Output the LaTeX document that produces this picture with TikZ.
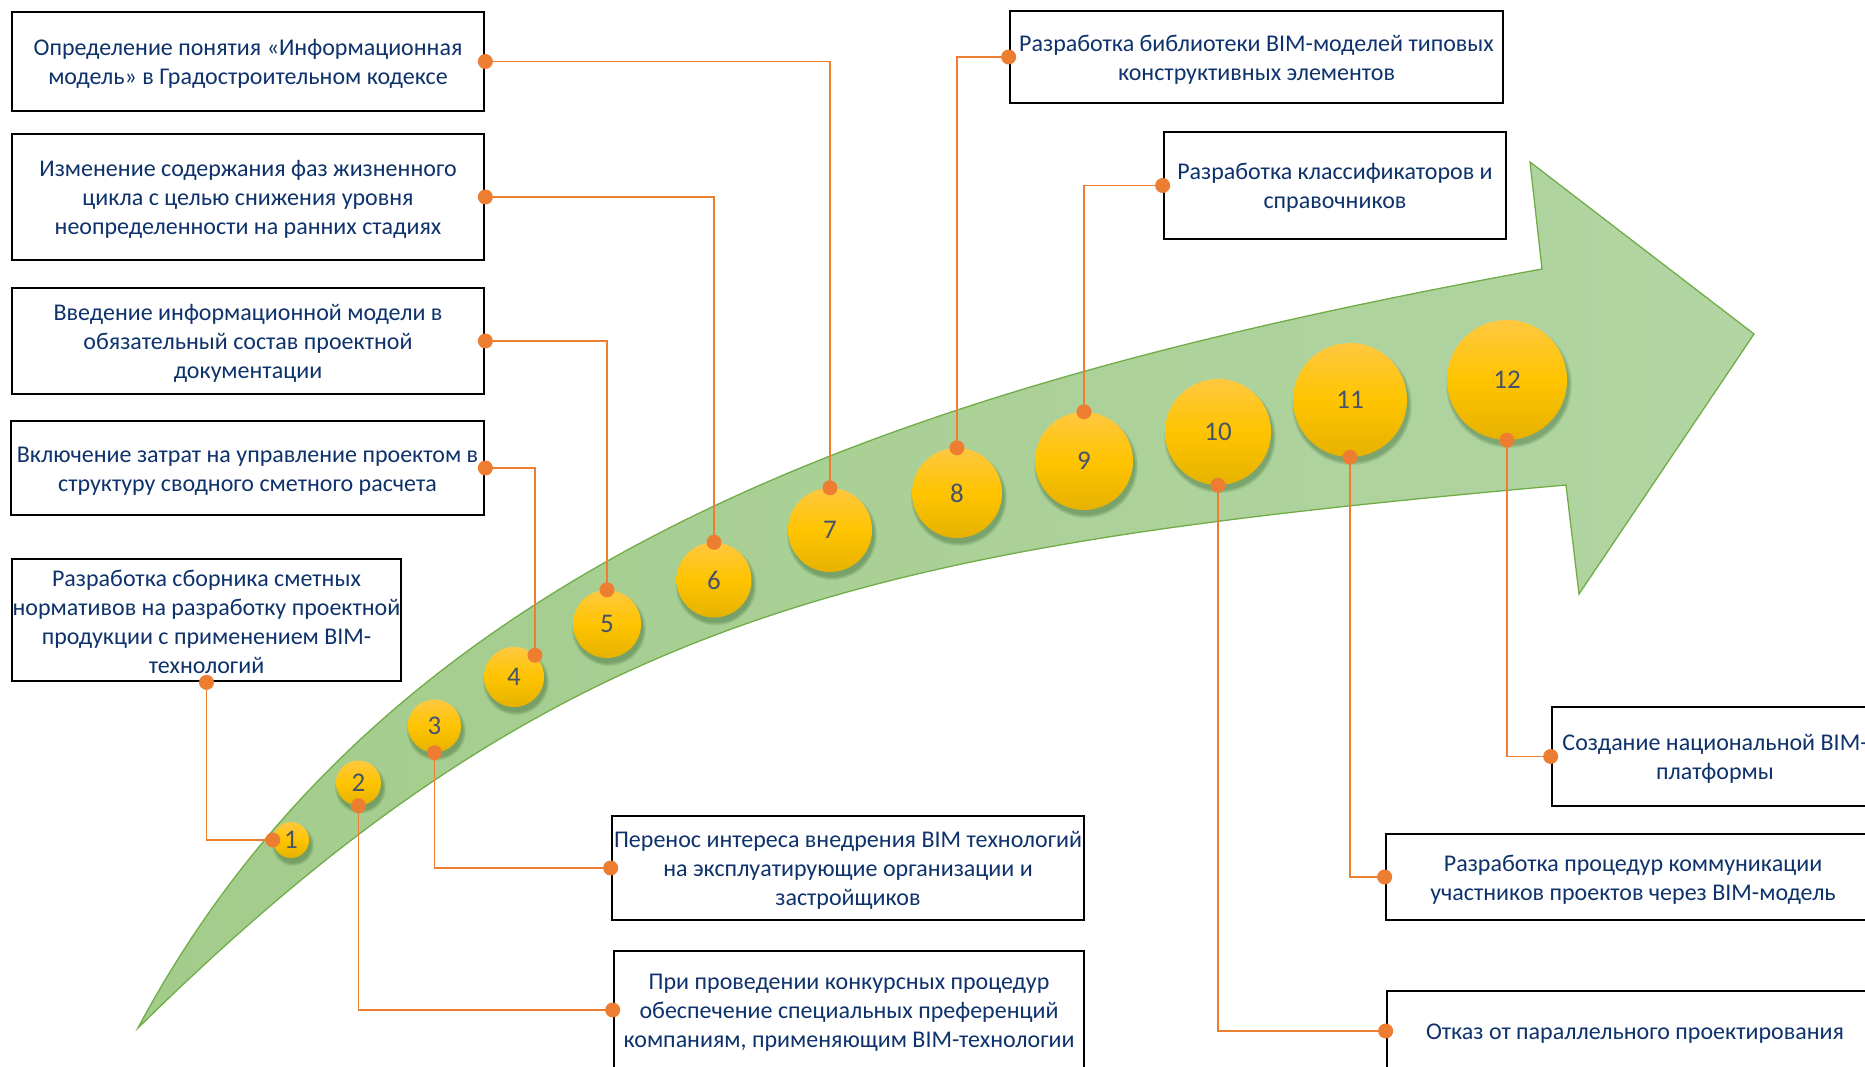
\documentclass[tikz,border=0pt]{standalone}
\usepackage{fontspec}
\setmainfont{Carlito}
\usetikzlibrary{calc}
\definecolor{txt}{RGB}{14,50,108}
\definecolor{orng}{RGB}{237,125,49}
\definecolor{numc}{RGB}{68,84,106}
\definecolor{arrfillA}{RGB}{163,204,139}
\definecolor{arrfillB}{RGB}{178,213,163}
\definecolor{arrline}{RGB}{112,173,71}
\definecolor{ctop}{RGB}{255,200,64}
\definecolor{cmid}{RGB}{255,196,0}
\definecolor{cbot}{RGB}{230,178,0}
\newcommand{\firstline}{\rule{0pt}{21pt}}
\tikzset{
  box/.style={draw=black, line width=2.7pt, fill=white, text=txt, align=center,
    font=\fontsize{24}{29}\selectfont, inner sep=2pt},
  conn/.style={draw=orng, line width=1.8pt},
  ball/.style={circle, inner sep=0pt, top color=ctop, bottom color=cbot, middle color=cmid,
    text=numc, font=\fontsize{27}{30}\selectfont},
}
\begin{document}
\begin{tikzpicture}[x=1pt,y=-1pt]
\useasboundingbox (0,0) rectangle (1865,1067);
\clip (0,0) rectangle (1865,1067);
\fill[white] (0,0) rectangle (1865,1067);

% big curved arrow
\path[draw=arrline, line width=1.3pt, left color=arrfillA, right color=arrfillB]
  (138,1028) .. controls (401,535) and (954,377) .. (1542,269)
  -- (1530,162) -- (1754,334) -- (1579,594) -- (1566,485)
  .. controls (869,547) and (564,608) .. (138,1028) -- cycle;

% shadows of the balls
\foreach \x/\y/\r in {291/840/18, 358.5/783/22.5, 434.5/726/26.5, 514/677/30, 607/624/34,
  714/580/37.5, 830/530/42, 957/493/45, 1084/461/49, 1218/432/53, 1350/400/57, 1507/380/60}{
  \foreach \k in {1,2,3,4}{
    \fill[black!80!green, opacity=0.08] (\x+2,\y+5) circle[radius=\r+4-\k];
  }
}

% balls
\foreach \n/\x/\y/\r in {1/291/840/18, 2/358.5/783/22.5, 3/434.5/726/26.5, 4/514/677/30, 5/607/624/34,
  6/714/580/37.5, 7/830/530/42, 8/957/493/45, 9/1084/461/49, 10/1218/432/53, 11/1350/400/57, 12/1507/380/60}{
  \node[ball, minimum size=2*\r pt] (c\n) at (\x,\y) {\n};
}

% boxes
\node[box, minimum width=472pt, minimum height=99pt] (A) at (248,61.5)
  {\firstline Определение понятия «Информационная\\модель» в Градостроительном кодексе};
\node[box, minimum width=472pt, minimum height=126pt] (B) at (248,197)
  {\firstline Изменение содержания фаз жизненного\\цикла с целью снижения уровня\\неопределенности на ранних стадиях};
\node[box, minimum width=472pt, minimum height=106pt] (C) at (248,341)
  {\firstline Введение информационной модели в\\обязательный состав проектной\\документации};
\node[box, minimum width=473pt, minimum height=94pt] (D) at (247.5,468)
  {\firstline Включение затрат на управление проектом в\\структуру сводного сметного расчета};
\node[box, minimum width=389pt, minimum height=122pt, inner sep=0pt] (E) at (206.5,620)
  {\firstline Разработка сборника сметных\\нормативов на разработку проектной\\продукции с применением BIM-\\технологий};
\node[box, minimum width=472pt, minimum height=104pt] (F) at (848,868)
  {\firstline Перенос интереса внедрения BIM технологий\\на эксплуатирующие организации и\\застройщиков};
\node[box, minimum width=470pt, minimum height=118pt] (G) at (849,1010)
  {\firstline При проведении конкурсных процедур\\обеспечение специальных преференций\\компаниям, применяющим BIM-технологии};
\node[box, minimum width=493pt, minimum height=92pt] (H) at (1256.5,57)
  {\firstline Разработка библиотеки BIM-моделей типовых\\конструктивных элементов};
\node[box, minimum width=342pt, minimum height=107pt] (I) at (1335,185.5)
  {\firstline Разработка классификаторов и\\справочников};
\node[box, minimum width=326pt, minimum height=99pt] (J) at (1715,756.5)
  {\firstline Создание национальной BIM-\\платформы};
\node[box, minimum width=494pt, minimum height=86pt] (K) at (1633,877)
  {\firstline Разработка процедур коммуникации\\участников проектов через BIM-модель};
\node[box, minimum width=496pt, minimum height=80pt] (L) at (1635,1031)
  {\rule{0pt}{20pt}Отказ от параллельного проектирования};

% connectors
\draw[conn] (E.south) |- (c1.west);
\draw[conn] (c2.south) |- (G.west);
\draw[conn] (c3.south) |- (F.west);
\draw[conn] (D.east) -| (c4.46);
\draw[conn] (C.east) -| (c5.north);
\draw[conn] (B.east) -| (c6.north);
\draw[conn] (A.east) -| (c7.north);
\draw[conn] (H.west) -| (c8.north);
\draw[conn] (I.west) -| (c9.north);
\draw[conn] (c10.south) |- (L.west);
\draw[conn] (c11.south) |- (K.west);
\draw[conn] (c12.south) |- (J.west);

% dots
\foreach \p in {A.east, B.east, C.east, D.east, E.south, F.west, G.west, H.west, I.west,
  J.west, K.west, L.west, c1.west, c2.south, c3.south, c4.46, c5.north, c6.north,
  c7.north, c8.north, c9.north, c10.south, c11.south, c12.south}{
  \fill[orng] (\p) circle[radius=7.5pt];
}
\end{tikzpicture}
\end{document}
